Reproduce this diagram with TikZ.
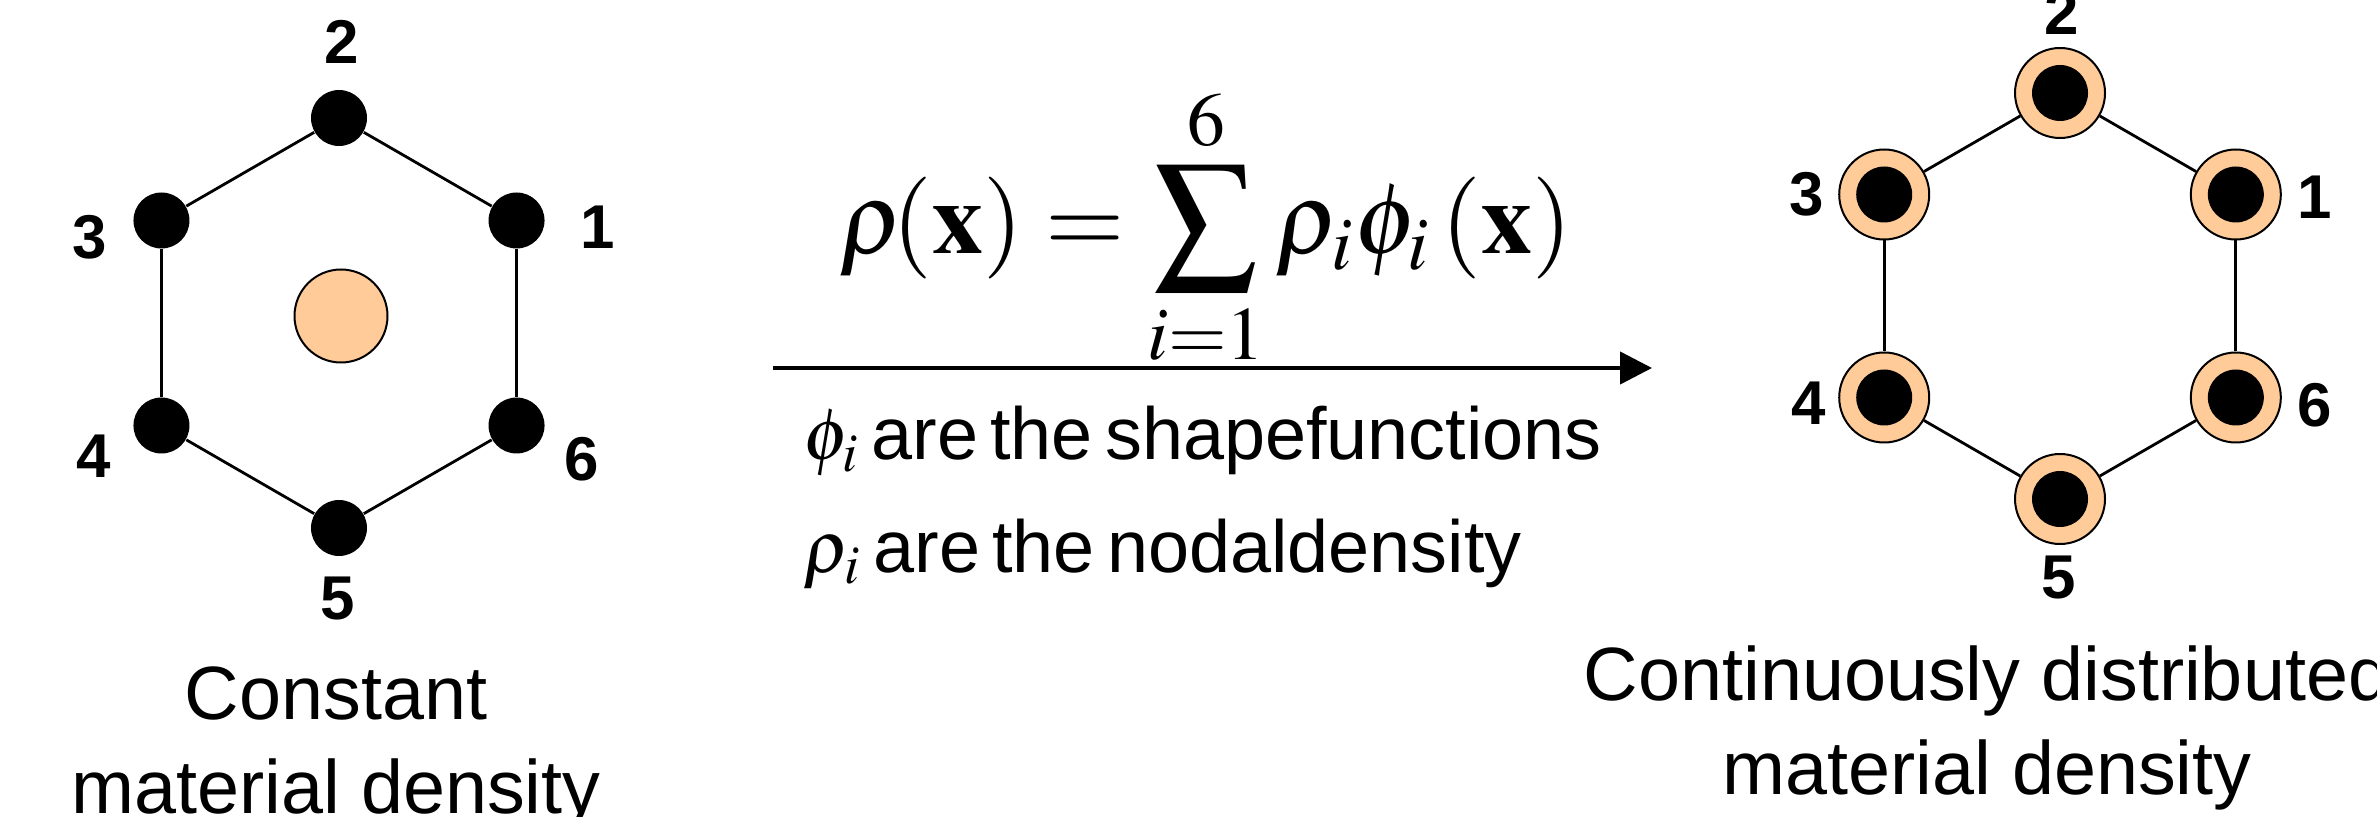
\documentclass[tikz,border=0pt]{standalone}
\usepackage{amsmath}
\usepackage{mathptmx}
\usepackage[no-math]{fontspec}
\setmainfont{Liberation Sans}
\newfontfamily\tightfont{Liberation Sans}[WordSpace=0.6]
\usepackage{tikz}
\usetikzlibrary{calc,arrows.meta}
\usepackage{xcolor}
\definecolor{density}{HTML}{FFCC99}

\begin{document}
\begin{tikzpicture}[x=0.1mm, y=0.1mm, >=Triangle,
    dot/.style={circle, fill=black, minimum size=5.6mm, inner sep=0pt},
    ring/.style={circle, draw=black, line width=0.2mm, fill=density, minimum size=9mm, inner sep=0pt},
    edge/.style={line width=0.28mm},
    num/.style={font=\fontsize{17.6}{20}\selectfont\bfseries, inner sep=0pt},
    caption/.style={font=\fontsize{21.5}{26.8}\selectfont, align=center, inner sep=0pt, anchor=north},
    desc/.style={font=\tightfont\fontsize{21}{25}\selectfont, inner sep=0pt, anchor=base west}]
    \useasboundingbox (0,0) rectangle (2377,816);

    % Constant density element
    \begin{scope}[shift={(339,493)}]
        \foreach \i in {1,...,6}
            \node[dot] (L\i) at ({60*\i-30}:205) {};
        \foreach \a/\b in {1/2,2/3,3/4,4/5,5/6,6/1}
            \draw[edge] (L\a) -- (L\b);
        \node[ring, minimum size=9.3mm] (Lmid) at (2,7) {};
    \end{scope}
    \foreach \i/\dx/\dy in {1/81/-7, 2/3/76, 3/-72/-17, 4/-68/-31, 5/-1/-71, 6/65/-34}
        \node[num] (Lnum\i) at ($(L\i)+(\dx,\dy)$) {\i};
    \node[caption] (Lcap) at (336,150) {Constant\\material density};

    % Interpolation
    \node[anchor=base west, inner sep=0pt, font=\fontsize{29}{34}\selectfont] (formula) at (839,562)
        {$\displaystyle \rho\mkern-2mu(\mathbf{x}) = \sum_{i=1}^{6}\rho_i\phi_i\,(\mathbf{x})$};
    \coordinate (arrowtail) at (773,448);
    \coordinate (arrowtip) at (1652,448);
    \draw[->, line width=0.43mm, arrows={-Triangle[length=3.2mm, width=3.2mm]}] (arrowtail) -- (arrowtip);
    \node[desc] (phitext) at (803,356) {$\phi_i$ are the shapefunctions};
    \node[desc] (rhotext) at (803,244) {$\rho_i$ are the nodaldensity};

    % Continuous density element
    \begin{scope}[shift={(2060,520)}]
        \foreach \i in {1,...,6}{
            \node[ring] (R\i) at ({60*\i-30}:203) {};
            \node[dot] (Rdot\i) at (R\i) {};
        }
        \foreach \a/\b in {1/2,2/3,3/4,4/5,5/6,6/1}
            \draw[edge] (R\a) -- (R\b);
    \end{scope}
    \foreach \i/\dx/\dy in {1/79/-3, 2/2/80, 3/-78/0, 4/-76/-6, 5/-1/-79, 6/79/-8}
        \node[num] (Rnum\i) at ($(R\i)+(\dx,\dy)$) {\i};
    \node[caption] (Rcap) at (1987,171) {Continuously distributed\\material density};
\end{tikzpicture}
\end{document}
